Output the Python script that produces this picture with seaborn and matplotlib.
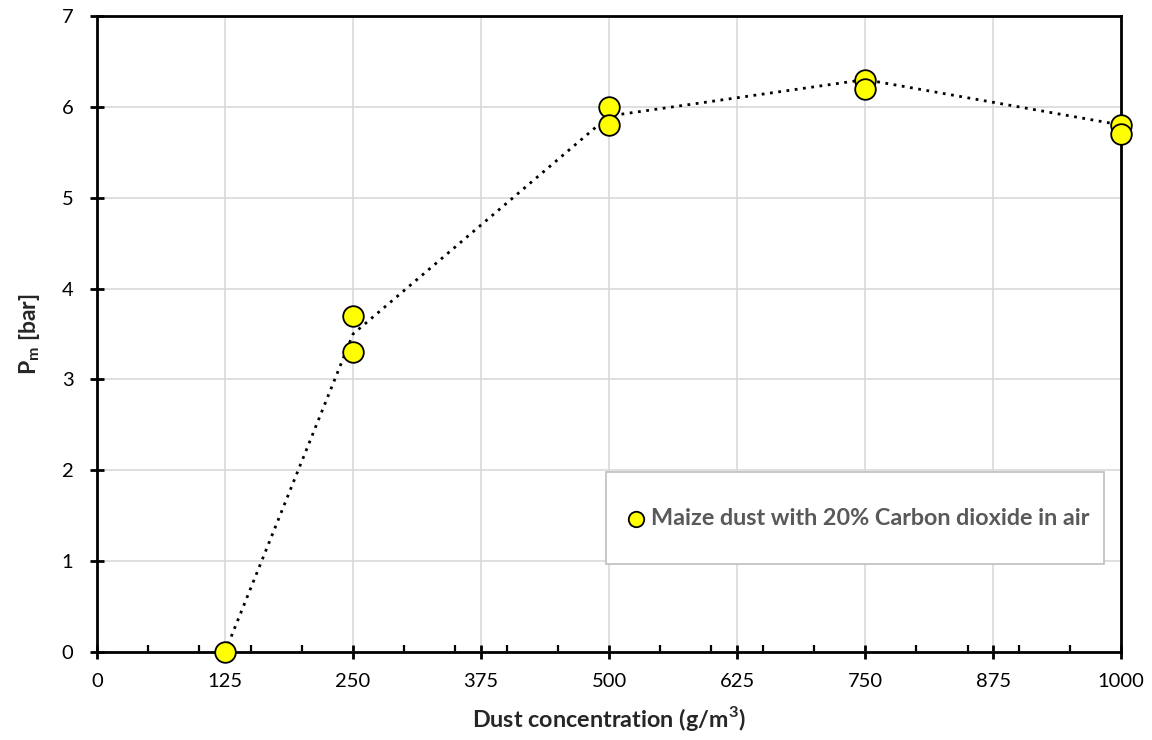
import numpy as np
import pandas as pd
import matplotlib
matplotlib.use("Agg")
import matplotlib.pyplot as plt
import seaborn as sns
from matplotlib.ticker import MultipleLocator
from matplotlib.patches import Rectangle

# measured points
conc = [125, 250, 250, 500, 500, 750, 750, 1000, 1000]
pm = [0.0, 3.7, 3.3, 6.0, 5.8, 6.3, 6.2, 5.8, 5.7]

# dotted trend line
line_conc = [125, 250, 500, 750, 1000]
line_pm = [0.0, 3.5, 5.9, 6.3, 5.8]

series_name = "Maize dust with 20% Carbon dioxide in air"

pts = pd.DataFrame({"conc": conc, "pm": pm})
trend = pd.DataFrame({"conc": line_conc, "pm": line_pm})

sns.set_theme(style="white")
plt.rcParams["font.family"] = ["Lato", "DejaVu Sans"]

fig = plt.figure(figsize=(11.52, 7.4), dpi=100)
ax = fig.add_axes([0.0842, 0.1189, 0.889, 0.8595])

ax.grid(True, color="#d9d9d9", lw=1.2, zorder=0)
ax.set_axisbelow(True)

sns.lineplot(data=trend, x="conc", y="pm", ax=ax, color="black", lw=2,
             linestyle=(0, (1, 2)), zorder=2, legend=False)
sns.scatterplot(data=pts, x="conc", y="pm", ax=ax, color="#ffff00",
                edgecolor="black", linewidth=1.3, s=220, zorder=3,
                label=series_name, clip_on=False)

ax.set_xlim(0, 1000)
ax.set_ylim(0, 7)
ax.xaxis.set_major_locator(MultipleLocator(125))
ax.xaxis.set_minor_locator(MultipleLocator(50))
ax.yaxis.set_major_locator(MultipleLocator(1))

for s in ax.spines.values():
    s.set_color("black")
    s.set_linewidth(2)

ax.tick_params(axis="both", which="major", direction="inout", length=10,
               width=2, color="black", labelsize=14.5, labelcolor="black",
               bottom=True, left=True)
ax.tick_params(axis="x", which="major", pad=10)
ax.tick_params(axis="y", which="major", pad=12)
ax.tick_params(axis="x", which="minor", direction="in", length=5, width=1.6,
               color="black", bottom=True)

ax.set_xlabel("Dust concentration (g/m$^\\mathregular{3}$)", fontsize=16.8,
              fontweight="bold", labelpad=10)
ax.set_ylabel("P$_\\mathregular{m}$ [bar]", fontsize=16.5, fontweight="bold",
              labelpad=14)

# legend box
ax.add_patch(Rectangle((0.497, 0.138), 0.486, 0.145, transform=ax.transAxes,
                       facecolor="white", edgecolor="#bfbfbf", lw=1.2,
                       zorder=4))
leg = ax.legend(loc="center left", bbox_to_anchor=(0.5186, 0.2105),
                fontsize=16.8, frameon=False, borderpad=0, borderaxespad=0,
                handletextpad=0.3, handlelength=0.7, markerscale=0.75)
leg.set_zorder(5)
for t in leg.get_texts():
    t.set_color("#595959")
    t.set_fontweight("bold")

fig.savefig("out.png", dpi=100)
